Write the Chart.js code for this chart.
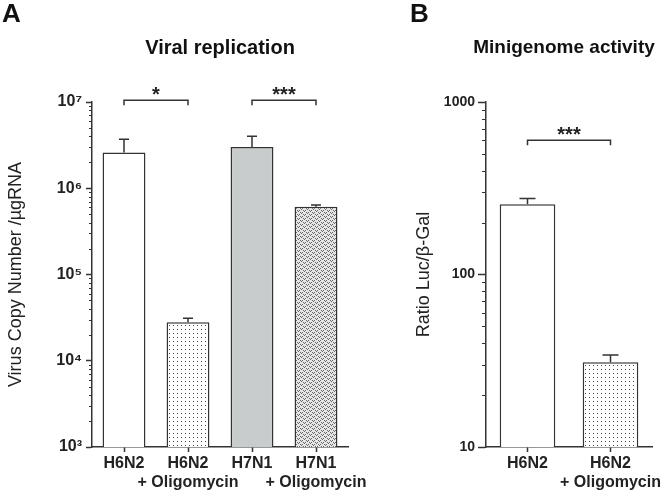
<!DOCTYPE html>
<html>
<head>
<meta charset="utf-8">
<script src="https://cdn.jsdelivr.net/npm/chart.js@4"></script>
<style>
  body { margin: 0; background: #fff; }
  #wrap { position: relative; width: 668px; height: 494px; background: #fff; }
  .pane { position: absolute; top: 0; height: 494px; }
  .letter { position: absolute; top: 0; font: bold 26px "Liberation Sans", Arial, sans-serif; line-height: 1; color: #111; }
</style>
</head>
<body>
<div id="wrap">
  <div class="pane" style="left:0;width:400px"><canvas id="chartA"></canvas></div>
  <div class="pane" style="left:400px;width:268px"><canvas id="chartB"></canvas></div>
  <div class="letter" style="left:2px">A</div>
  <div class="letter" style="left:410px">B</div>
</div>
<script>
// panel A: viral replication
const labelsA = [['H6N2'], ['H6N2', '+ Oligomycin'], ['H7N1'], ['H7N1', '+ Oligomycin']];
const meansA = [2.6e6, 2.8e4, 3.0e6, 6.1e5];
const sdsA = [1.1e6, 0.3e4, 1.0e6, 0.3e5];
const decadesA = [1e3, 1e4, 1e5, 1e6, 1e7];
const tickLabelsA = ['10³', '10⁴', '10⁵', '10⁶', '10⁷'];
const bracketsA = [[0, 1, '*', 1.05e7], [2, 3, '***', 1.05e7]];

// panel B: minigenome activity
const labelsB = [['H6N2'], ['H6N2', '+ Oligomycin']];
const meansB = [255, 31];
const sdsB = [21, 3.2];
const decadesB = [10, 100, 1000];
const tickLabelsB = ['10', '100', '1000'];
const bracketsB = [[0, 1, '***', 600]];

const FONT = '"Liberation Sans", Arial, sans-serif';
const INK = '#333';

function makePattern(w, h, base, dots, color) {
  const c = document.createElement('canvas');
  c.width = w; c.height = h;
  const g = c.getContext('2d');
  g.fillStyle = base; g.fillRect(0, 0, w, h);
  g.fillStyle = color;
  dots.forEach(([px, py]) => g.fillRect(px, py, 1, 1));
  return g.createPattern(c, 'repeat');
}
const stipple = makePattern(4, 4, '#fff', [[1, 1]], '#444');
const dense = makePattern(6, 4, '#e6e6e6', [[0, 0], [2, 0], [1, 1], [3, 2], [5, 2], [4, 3]], '#666');

// panel title, error bars, minor log ticks, significance brackets
const decorations = {
  id: 'decorations',
  afterDatasetsDraw(chart, args, o) {
    const { ctx, chartArea: area, scales: { x, y } } = chart;
    ctx.save();

    ctx.fillStyle = '#111';
    ctx.font = 'bold ' + o.titleSize + 'px ' + FONT;
    ctx.textAlign = 'center';
    ctx.textBaseline = 'middle';
    ctx.fillText(o.title, (area.left + area.right) / 2 + o.titleShift, 48);

    ctx.strokeStyle = INK;
    ctx.lineWidth = 1.5;
    ctx.beginPath();
    o.means.forEach((m, i) => {
      const cx = x.getPixelForValue(i);
      const y0 = y.getPixelForValue(m);
      const y1 = y.getPixelForValue(m + o.sds[i]);
      ctx.moveTo(cx, y0); ctx.lineTo(cx, y1);
      ctx.moveTo(cx - o.cap, y1); ctx.lineTo(cx + o.cap, y1);
    });
    ctx.stroke();

    ctx.lineWidth = 1.2;
    ctx.beginPath();
    o.decades.slice(0, -1).forEach(d => {
      for (let k = 2; k <= 9; k++) {
        const py = Math.round(y.getPixelForValue(d * k)) + 0.5;
        ctx.moveTo(y.right - o.minor, py); ctx.lineTo(y.right, py);
      }
    });
    ctx.stroke();

    ctx.lineWidth = 1.5;
    ctx.fillStyle = '#222';
    ctx.font = 'bold 20px ' + FONT;
    ctx.textBaseline = 'alphabetic';
    o.brackets.forEach(([a, b, txt, lvl]) => {
      const xa = x.getPixelForValue(a), xb = x.getPixelForValue(b);
      const py = y.getPixelForValue(lvl);
      ctx.beginPath();
      ctx.moveTo(xa, py + 5); ctx.lineTo(xa, py); ctx.lineTo(xb, py); ctx.lineTo(xb, py + 5);
      ctx.stroke();
      ctx.fillText(txt, (xa + xb) / 2, py + 1);
    });
    ctx.restore();
  }
};

function panel(id, cfg) {
  return new Chart(document.getElementById(id), {
    type: 'bar',
    data: {
      labels: cfg.labels,
      datasets: [{
        data: cfg.means,
        backgroundColor: cfg.fills,
        borderColor: INK,
        borderWidth: 1.5,
        categoryPercentage: 1,
        barPercentage: 0.67
      }]
    },
    options: {
      responsive: true,
      maintainAspectRatio: false,
      animation: false,
      layout: { padding: { left: 0, right: cfg.right, top: 102, bottom: 0 } },
      plugins: {
        legend: { display: false },
        tooltip: { enabled: false },
        title: { display: false },
        decorations: {
          title: cfg.title, titleSize: cfg.titleSize, titleShift: cfg.titleShift,
          means: cfg.means, sds: cfg.sds, cap: cfg.cap,
          decades: cfg.decades, minor: cfg.minor, brackets: cfg.brackets
        }
      },
      scales: {
        x: {
          afterFit: s => { s.height = 47; },
          border: { color: INK, width: 1.5 },
          grid: { display: true, drawOnChartArea: false, offset: false, tickLength: 5, tickColor: INK, tickWidth: 1.5 },
          ticks: { autoSkip: false, color: '#222', padding: 2, font: { family: FONT, size: 16, weight: 'bold', lineHeight: 1.2 }, maxRotation: 0 }
        },
        y: {
          type: 'logarithmic',
          min: cfg.decades[0],
          max: cfg.decades[cfg.decades.length - 1],
          afterFit: s => { s.width = cfg.yWidth; },
          afterBuildTicks: s => { s.ticks = cfg.decades.map(v => ({ value: v, major: true })); },
          border: { color: INK, width: 1.5 },
          grid: { display: true, drawOnChartArea: false, tickLength: cfg.major, tickColor: INK, tickWidth: 1.5 },
          ticks: {
            autoSkip: false,
            color: '#222',
            padding: cfg.tickPad,
            font: { family: FONT, size: cfg.tickSize, weight: 'bold' },
            callback: v => {
              const i = cfg.decades.findIndex(d => Math.abs(Math.log10(d) - Math.log10(v)) < 1e-6);
              return i < 0 ? '' : cfg.tickLabels[i];
            }
          },
          title: {
            display: true,
            text: cfg.yTitle,
            color: '#222',
            font: { family: FONT, size: 18, lineHeight: 1.2 },
            padding: { top: cfg.titlePad, bottom: 0 }
          }
        }
      }
    },
    plugins: [decorations]
  });
}

panel('chartA', {
  labels: labelsA, means: meansA, sds: sdsA,
  fills: ['#ffffff', stipple, '#c9cccd', dense],
  title: 'Viral replication', titleSize: 20, titleShift: 0, yTitle: 'Virus Copy Number /µgRNA',
  decades: decadesA, tickLabels: tickLabelsA, brackets: bracketsA,
  right: 52, yWidth: 92, cap: 5, major: 6, minor: 3, tickPad: 4, titlePad: 5, tickSize: 16
});

panel('chartB', {
  labels: labelsB, means: meansB, sds: sdsB,
  fills: ['#ffffff', stipple],
  title: 'Minigenome activity', titleSize: 19, titleShift: -5, yTitle: 'Ratio Luc/β-Gal',
  decades: decadesB, tickLabels: tickLabelsB, brackets: bracketsB,
  right: 16, yWidth: 86, cap: 8, major: 8, minor: 4, tickPad: 3, titlePad: 13, tickSize: 14
});
</script>
</body>
</html>
